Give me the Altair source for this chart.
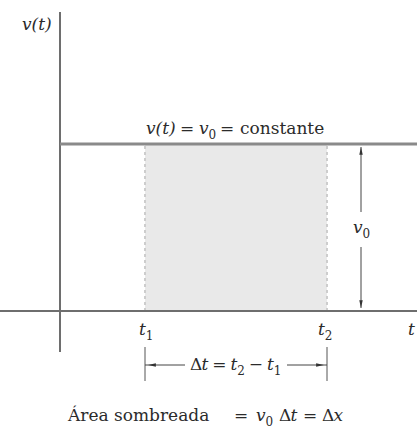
import altair as alt
import pandas as pd

# interval [t1, t2] and the constant velocity v0
t_bounds = [8.5, 26.7]
v_level = 16.7
# visible extent of the time and velocity axes
t_view = [-6.0, 35.7]
v_view = [-12.0, 31.1]

T1, T2 = t_bounds
V0 = v_level

SERIF = "DejaVu Serif"
INK = "#2b2b2b"
AXIS = "#6e6e6e"

xs = alt.Scale(domain=t_view, nice=False, zero=False)
ys = alt.Scale(domain=v_view, nice=False, zero=False)


def X(f="x"):
    return alt.X(f"{f}:Q", scale=xs, axis=None)


def Y(f="y"):
    return alt.Y(f"{f}:Q", scale=ys, axis=None)


# shaded area under v(t) between t1 and t2
area = alt.Chart(pd.DataFrame({"x": [T1], "x2": [T2], "y": [0.0], "y2": [V0]})).mark_rect(
    color="#e9e9e9"
).encode(x=X(), x2="x2:Q", y=Y(), y2="y2:Q")

edges = alt.Chart(pd.DataFrame({"x": t_bounds, "y": [0.0, 0.0], "y2": [V0, V0]})).mark_rule(
    color="#cdcdcd", strokeWidth=2, strokeDash=[3, 3]
).encode(x=X(), y=Y(), y2="y2:Q")

# axes
t_axis = alt.Chart(pd.DataFrame({"x": [t_view[0]], "x2": [t_view[1]], "y": [0.0]})).mark_rule(
    color=AXIS, strokeWidth=2
).encode(x=X(), x2="x2:Q", y=Y())

v_axis = alt.Chart(pd.DataFrame({"x": [0.0], "y": [-4.1], "y2": [29.9]})).mark_rule(
    color=AXIS, strokeWidth=2
).encode(x=X(), y=Y(), y2="y2:Q")

# v(t) = v0
v_line = alt.Chart(pd.DataFrame({"x": [0.0], "x2": [t_view[1]], "y": [V0]})).mark_rule(
    color="#8a8a8a", strokeWidth=3
).encode(x=X(), x2="x2:Q", y=Y())

# dimension for v0 (vertical, split around its label)
VX = 30.1
v_dim = alt.Chart(pd.DataFrame({"x": [VX, VX], "y": [0.3, 9.9], "y2": [6.4, V0 - 0.3]})).mark_rule(
    color="#444444", strokeWidth=1
).encode(x=X(), y=Y(), y2="y2:Q")

ARROW_UP = "M0,-1L0.45,1L-0.45,1Z"
ARROW_DN = "M0,1L0.45,-1L-0.45,-1Z"
ARROW_LT = "M-1,0L1,0.45L1,-0.45Z"
ARROW_RT = "M1,0L-1,0.45L-1,-0.45Z"


def head(x, y, shape):
    return alt.Chart(pd.DataFrame({"x": [x], "y": [y]})).mark_point(
        shape=shape, filled=True, size=60, color="#333333", opacity=1
    ).encode(x=X(), y=Y())


# dimension for delta t
DY = -5.4
t_ticks = alt.Chart(pd.DataFrame({"x": t_bounds, "y": [-3.6, -3.6], "y2": [-7.0, -7.0]})).mark_rule(
    color="#555555", strokeWidth=1
).encode(x=X(), y=Y(), y2="y2:Q")

t_dim = alt.Chart(pd.DataFrame({"x": [T1, T2 - 4.0], "x2": [T1 + 4.0, T2], "y": [DY, DY]})).mark_rule(
    color="#444444", strokeWidth=1
).encode(x=X(), x2="x2:Q", y=Y())

# text pieces: (text, x, y, style)  style: it = italic, rm = roman, sub = subscript
TOP = V0 + 1.0
DT = DY - 0.5
BOT = -11.0
SUB = 0.45
pieces = [
    ("v(t)", -3.8, 28.1, "it"),
    ("v(t)", T1 + 0.1, TOP, "it"),
    ("=", T1 + 3.5, TOP, "rm"),
    ("v", T1 + 5.4, TOP, "it"),
    ("0", T1 + 6.35, TOP - SUB, "sub"),
    ("=", T1 + 7.5, TOP, "rm"),
    ("constante", T1 + 9.5, TOP, "rm"),
    ("v", VX - 0.8, 7.8, "it"),
    ("0", VX + 0.15, 7.8 - SUB, "sub"),
    ("t", T1 - 0.6, -2.4, "it"),
    ("1", T1 + 0.07, -2.4 - SUB, "sub"),
    ("t", T2 - 0.9, -2.4, "it"),
    ("2", T2 - 0.23, -2.4 - SUB, "sub"),
    ("t", t_view[1] - 0.9, -2.4, "it"),
    ("\u0394", T1 + 4.5, DT, "rm"),
    ("t", T1 + 5.66, DT, "it"),
    ("=", T1 + 6.73, DT, "rm"),
    ("t", T1 + 8.55, DT, "it"),
    ("2", T1 + 9.22, DT - SUB, "sub"),
    ("\u2212", T1 + 10.38, DT, "rm"),
    ("t", T1 + 12.2, DT, "it"),
    ("1", T1 + 12.87, DT - SUB, "sub"),
    ("\u00c1rea sombreada", 0.8, BOT, "rm"),
    ("=", 17.4, BOT, "rm"),
    ("v", 19.6, BOT, "it"),
    ("0", 20.55, BOT - SUB, "sub"),
    ("\u0394", 21.9, BOT, "rm"),
    ("t", 23.06, BOT, "it"),
    ("=", 24.3, BOT, "rm"),
    ("\u0394", 26.2, BOT, "rm"),
    ("x", 27.36, BOT, "it"),
]
labels = pd.DataFrame(pieces, columns=["text", "x", "y", "style"])

STYLE = {
    "it": dict(fontStyle="italic", fontSize=17),
    "rm": dict(fontStyle="normal", fontSize=17),
    "sub": dict(fontStyle="normal", fontSize=12),
}
text_layers = [
    alt.Chart(labels[labels["style"] == s]).mark_text(
        align="left", baseline="alphabetic", font=SERIF, color=INK, **kw
    ).encode(x=X(), y=Y(), text="text:N")
    for s, kw in STYLE.items()
]

chart = alt.layer(
    area, edges, t_axis, v_axis, v_line, v_dim,
    head(VX, V0 - 0.7, ARROW_UP), head(VX, 0.7, ARROW_DN),
    t_ticks, t_dim,
    head(T1 + 0.7, DY, ARROW_LT), head(T2 - 0.7, DY, ARROW_RT),
    *text_layers,
).properties(
    width=417, height=431, padding=0, autosize=alt.AutoSizeParams(type="none"),
    background="white",
).configure_view(stroke=None)

chart.save("out.html", embed_options={"renderer": "svg", "actions": False})
